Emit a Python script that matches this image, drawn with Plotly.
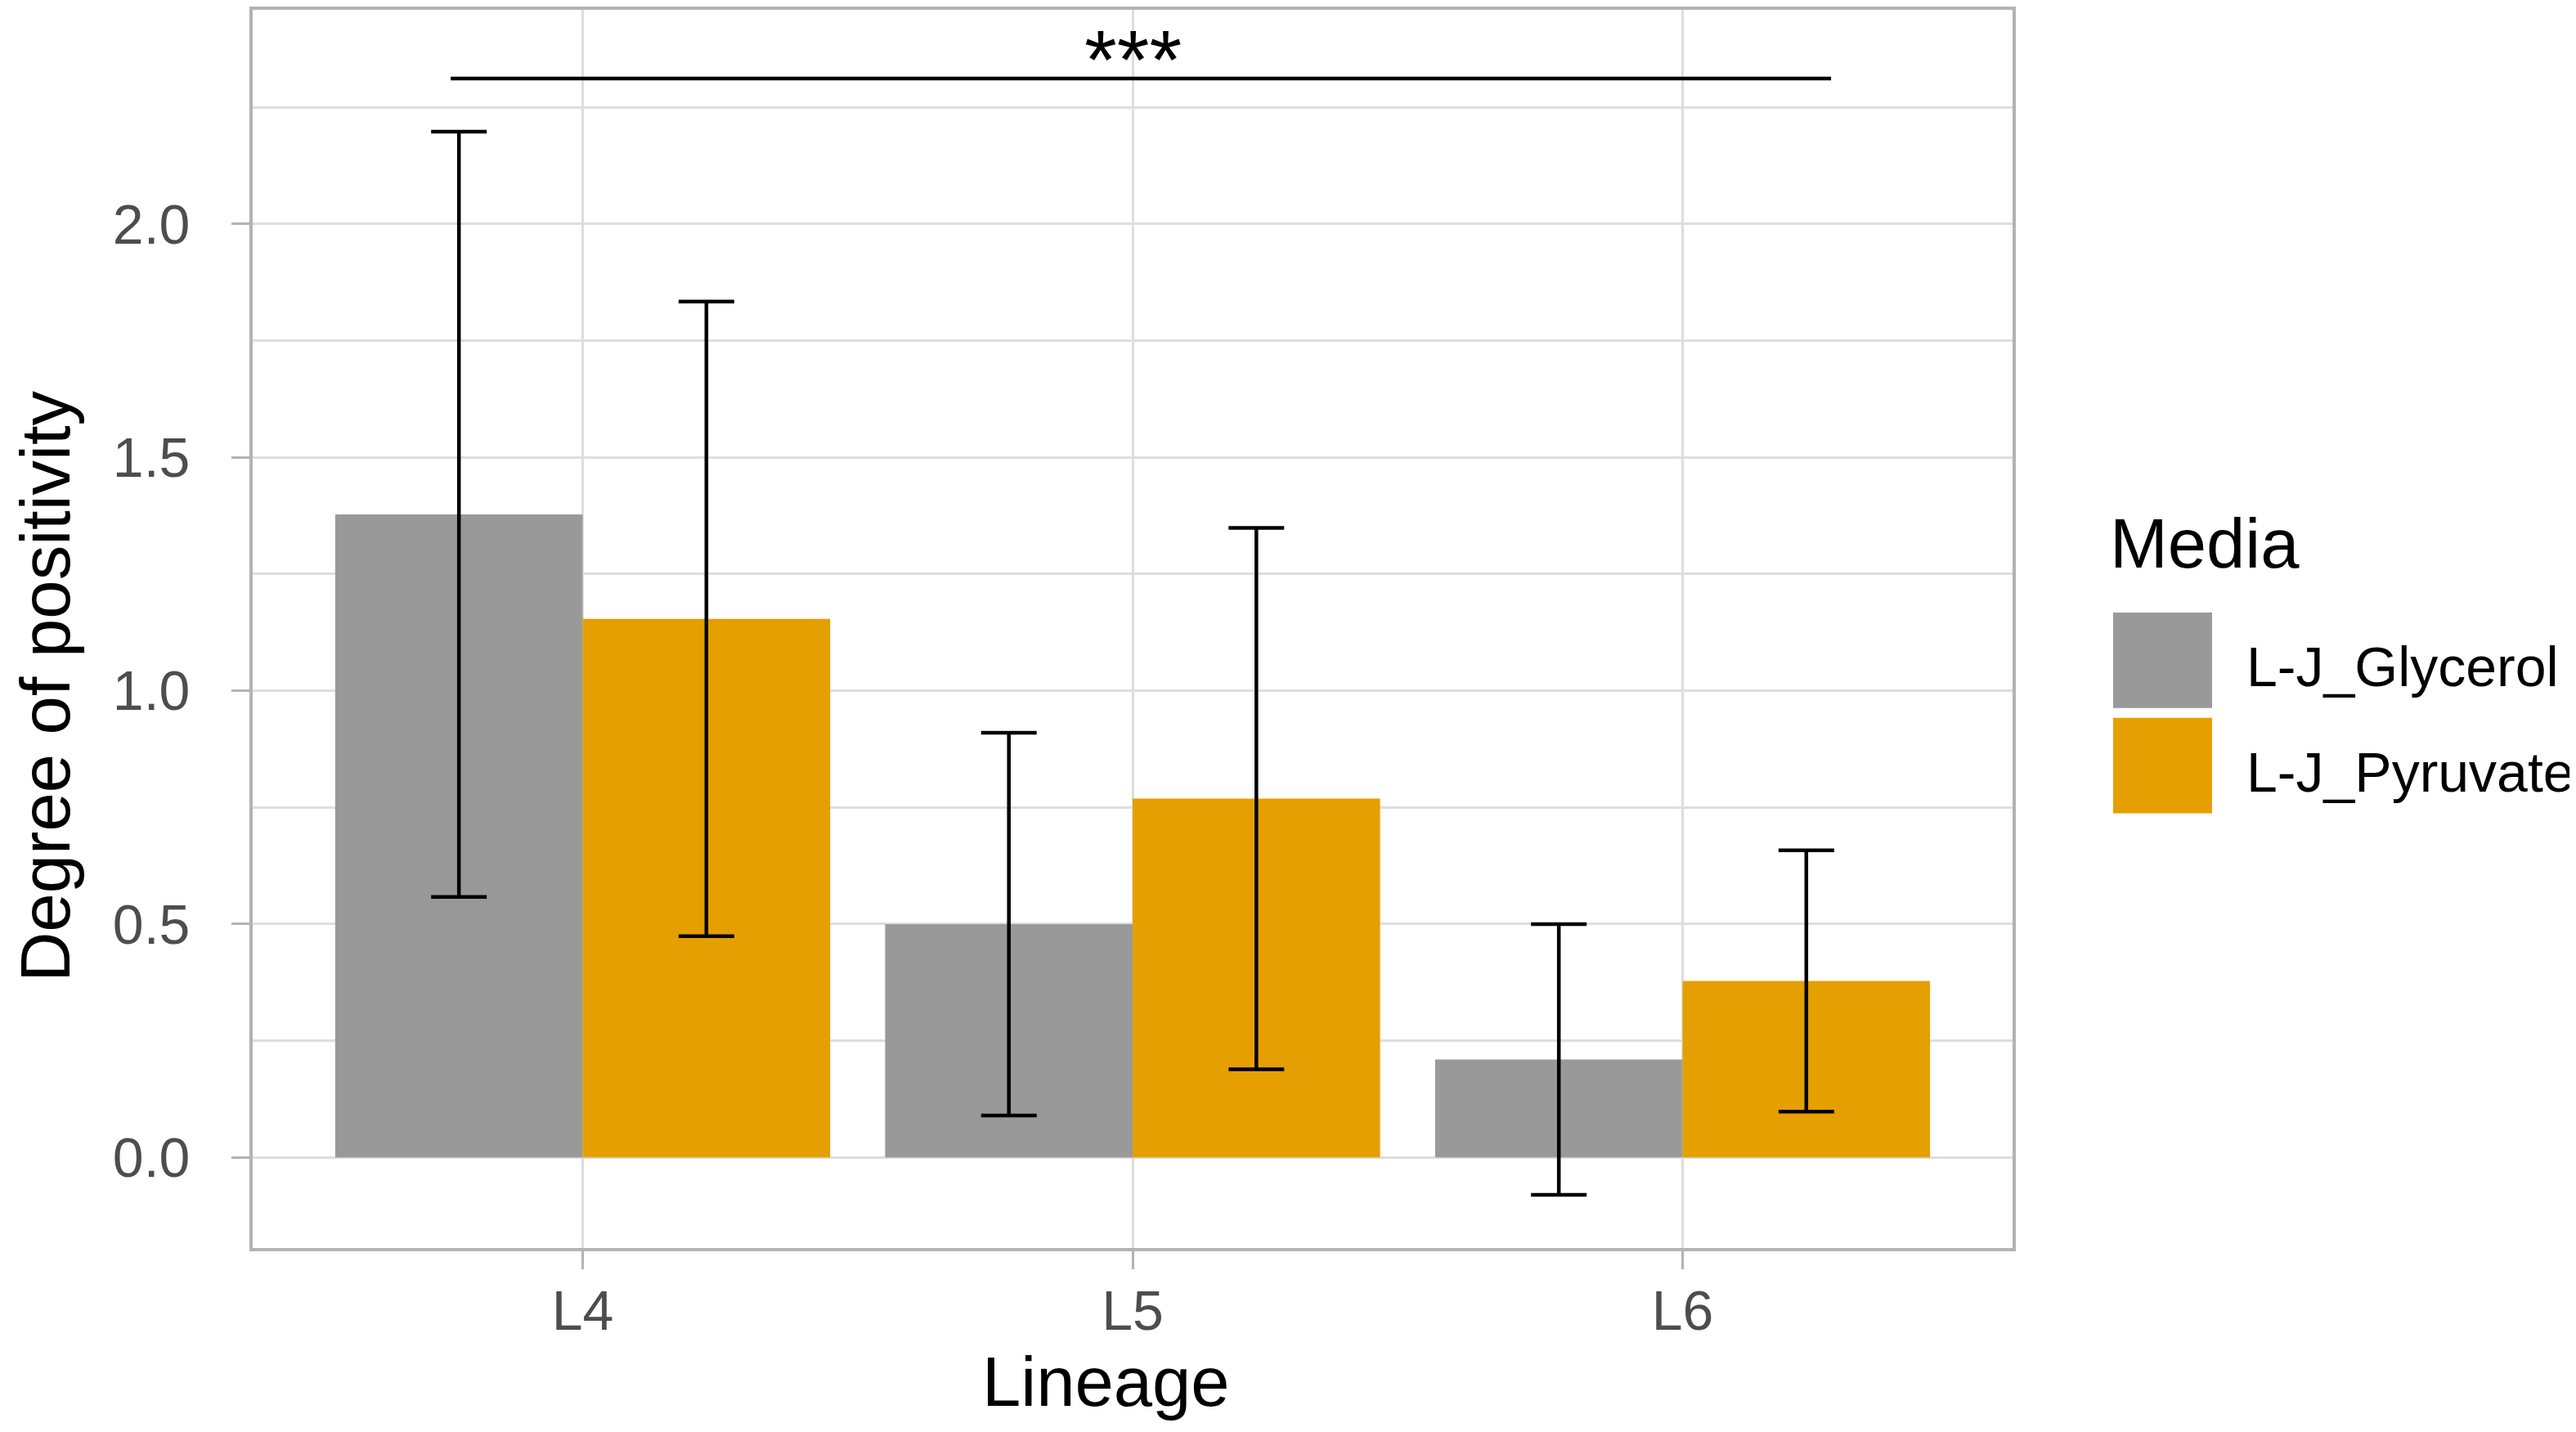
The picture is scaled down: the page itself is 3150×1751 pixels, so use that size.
import plotly.graph_objects as go

# data
lineages = ["L4", "L5", "L6"]
media = ["L-J_Glycerol", "L-J_Pyruvate"]
glycerol_mean = [1.378, 0.500, 0.210]
glycerol_sd = [0.82, 0.41, 0.29]
pyruvate_mean = [1.154, 0.769, 0.378]
pyruvate_sd = [0.68, 0.58, 0.28]
colors = ["#999999", "#E69F00"]

sig_label = "***"
sig_from, sig_to, sig_y = -0.24, 2.27, 2.312

FONT = "Liberation Sans, Arial, sans-serif"
W, H = 3150, 1751
# page body adds an 8px offset, so the panel box is shifted by that much
OFF = 8
L, R, T, B = 309 - OFF, 2461 - OFF, 8 - OFF, 1526 - OFF

fig = go.Figure()
for name, mean, sd, col in zip(media, [glycerol_mean, pyruvate_mean],
                               [glycerol_sd, pyruvate_sd], colors):
    fig.add_trace(go.Bar(
        x=lineages, y=mean, name=name, marker_color=col, marker_line_width=0,
        error_y=dict(type="data", array=sd, visible=True, color="black",
                     thickness=4.5, width=34),
        showlegend=False,
    ))

# significance bracket
fig.add_shape(type="line", xref="x", yref="y", x0=sig_from, x1=sig_to,
              y0=sig_y, y1=sig_y, line=dict(color="black", width=4.5))
fig.add_annotation(x=1, y=sig_y, xref="x", yref="y", text=sig_label,
                   showarrow=False, yanchor="bottom", yshift=-36,
                   font=dict(family=FONT, size=102, color="black"))


def px_x(p):
    return (p - OFF - L) / (R - L)


def px_y(p):
    return (B - (p - OFF)) / (B - T)


# axis titles (placed where ggplot put them)
fig.add_annotation(x=px_x(1352), y=px_y(1690), xref="paper", yref="paper",
                   text="Lineage", showarrow=False, xanchor="center", yanchor="middle",
                   font=dict(family=FONT, size=85, color="black"))
fig.add_annotation(x=px_x(56), y=px_y(838), xref="paper", yref="paper",
                   text="Degree of positivity", textangle=-90, showarrow=False,
                   xanchor="center", yanchor="middle",
                   font=dict(family=FONT, size=85, color="black"))

# legend drawn by hand so the keys are as big as in ggplot
fig.add_annotation(x=px_x(2578), y=px_y(662), xref="paper", yref="paper",
                   text="Media", showarrow=False, xanchor="left", yanchor="middle",
                   font=dict(family=FONT, size=85, color="black"))
key_tops = [747, 876]
for name, col, top in zip(media, colors, key_tops):
    fig.add_shape(type="rect", xref="paper", yref="paper",
                  x0=px_x(2584), x1=px_x(2705), y0=px_y(top), y1=px_y(top + 117),
                  fillcolor=col, line_width=0)
    fig.add_annotation(x=px_x(2745), y=px_y(top + 66), xref="paper", yref="paper",
                       text=name, showarrow=False, xanchor="left", yanchor="middle",
                       font=dict(family=FONT, size=68, color="black"))

fig.update_layout(
    width=W, height=H,
    margin=dict(l=L, r=W - R, t=T, b=H - B, pad=0),
    paper_bgcolor="white", plot_bgcolor="white",
    barmode="group", bargap=0.1, bargroupgap=0,
    font=dict(family=FONT),
)
fig.update_xaxes(
    range=[-0.6, 2.6], showgrid=True, gridcolor="#dedede", gridwidth=3,
    showline=True, mirror=True, linecolor="#b3b3b3", linewidth=4,
    ticks="outside", ticklen=22, tickwidth=3, tickcolor="#b3b3b3",
    tickfont=dict(family=FONT, size=68, color="#4d4d4d"), ticklabelstandoff=-8,
    zeroline=False,
)
fig.update_yaxes(
    range=[-0.194, 2.459], tickvals=[0, 0.5, 1.0, 1.5, 2.0],
    ticktext=["0.0", "0.5", "1.0", "1.5", "2.0"],
    showgrid=True, gridcolor="#dedede", gridwidth=3,
    minor=dict(tick0=0, dtick=0.25, showgrid=True, gridcolor="#dedede",
               gridwidth=3, ticks=""),
    showline=True, mirror=True, linecolor="#b3b3b3", linewidth=4,
    ticks="outside", ticklen=22, tickwidth=3, tickcolor="#b3b3b3",
    tickfont=dict(family=FONT, size=68, color="#4d4d4d"), ticklabelstandoff=37,
    zeroline=False,
)

fig.write_html("out.html")
